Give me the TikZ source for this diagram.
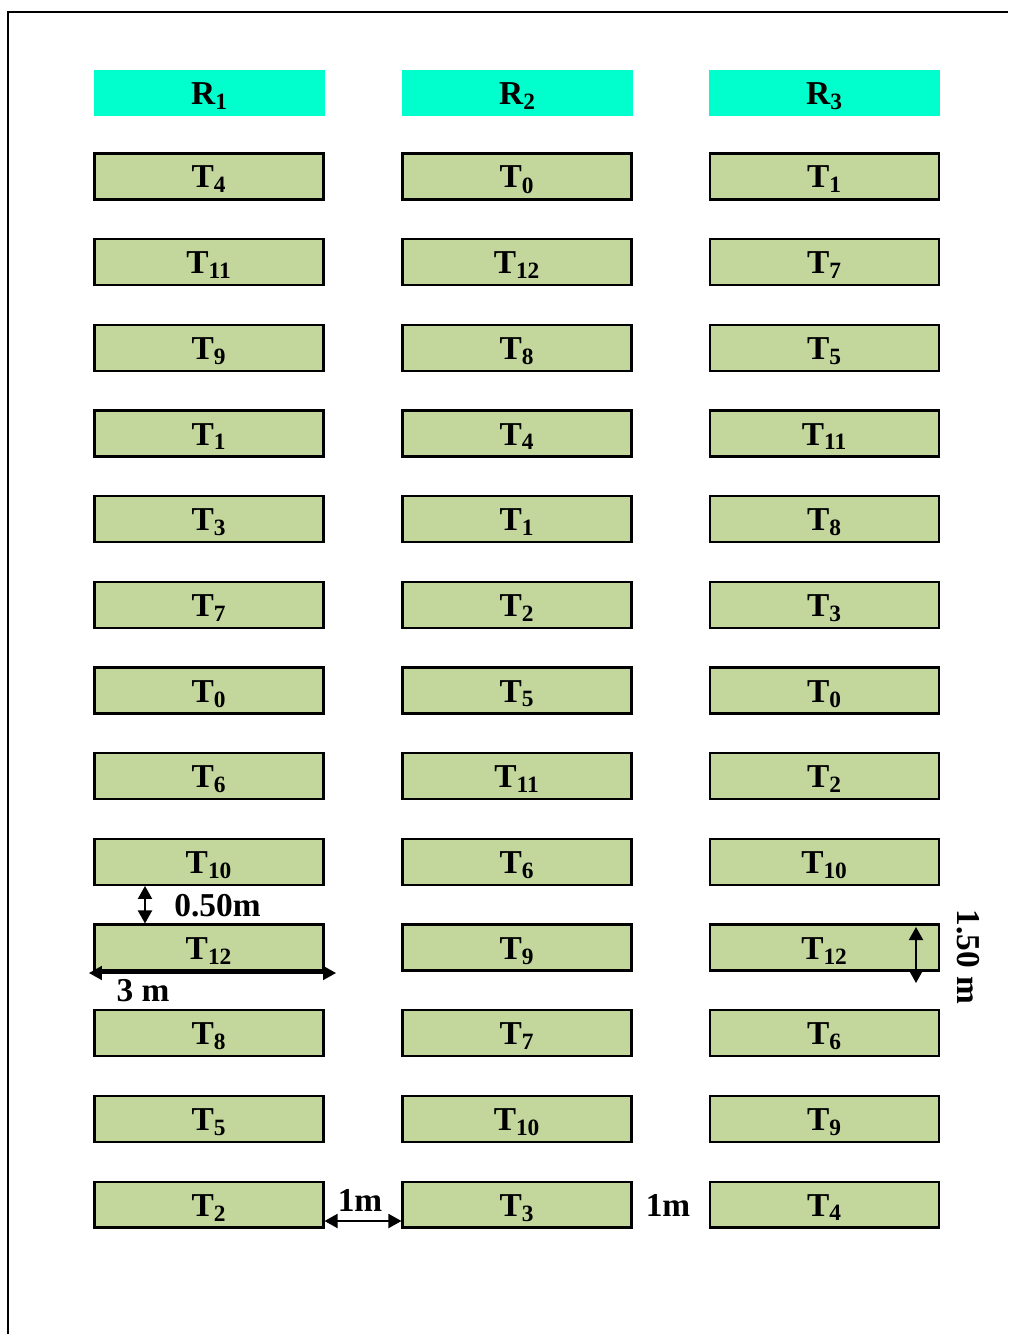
\documentclass[tikz,border=0pt]{standalone}
\usepackage{fontspec}
\setmainfont{Liberation Serif}
\usepackage{xcolor}
\usetikzlibrary{arrows.meta, positioning}

\definecolor{headcyan}{RGB}{0,255,204}
\definecolor{plotgreen}{RGB}{195,214,155}

\begin{document}
\begin{tikzpicture}[
  x=0.02cm, y=-0.02cm,
  font=\fontsize{19}{22}\selectfont\bfseries,
  frameline/.style={draw=black, line width=1.2pt},
  rowhead/.style={fill=headcyan, minimum width=4.62cm, minimum height=0.92cm, inner sep=0pt,
    text height=0.5cm, text depth=0.04cm},
  plot/.style={draw=black, line width=1.2pt, fill=plotgreen, minimum width=4.58cm, minimum height=0.92cm, inner sep=0pt,
    text height=0.5cm, text depth=0.04cm},
  dimarrow/.style={{Triangle[width=0.28cm, length=0.26cm]}-{Triangle[width=0.28cm, length=0.26cm]}, line width=1.1pt},
  dimlabel/.style={inner sep=0pt}
]
\useasboundingbox (0,0) rectangle (1008,1334);

% ============ FRAME ============
\draw[frameline] (8,1334) -- (8,12) -- (1008,12);

% ============ REPLICATES ============
\node[rowhead] (ra) at (209.5,93) {R\textsubscript{1}};
\node[rowhead] (rb) at (517.5,93) {R\textsubscript{2}};
\node[rowhead] (rc) at (824.5,93) {R\textsubscript{3}};

% ============ PLOTS ============
\foreach \lab [count=\k] in {4,11,9,1,3,7,0,6,10,12,8,5,2}
  \node[plot] (a\k) at (209,{176.5+85.67*(\k-1)}) {T\textsubscript{\lab}};
\foreach \lab [count=\k] in {0,12,8,4,1,2,5,11,6,9,7,10,3}
  \node[plot] (b\k) at (517,{176.5+85.67*(\k-1)}) {T\textsubscript{\lab}};
\foreach \lab [count=\k] in {1,7,5,11,8,3,0,2,10,12,6,9,4}
  \node[plot] (c\k) at (824.5,{176.5+85.67*(\k-1)}) {T\textsubscript{\lab}};

% ============ DIMENSIONS ============
\coordinate (gapx) at (145,0);
\draw[dimarrow] (a9.south -| gapx) -- (a10.north -| gapx);
\node[dimlabel, anchor=west] (gaplab) at (174,906) {0.50m};

\coordinate (wl) at (89,973);
\coordinate (wr) at (336,973);
\draw[dimarrow] (wl) -- (wr);
\node[dimlabel] (widthlab) at (143,991) {3 m};

\coordinate (ht) at (916,927);
\coordinate (hb) at (916,983);
\draw[dimarrow] (ht) -- (hb);
\node[dimlabel, rotate=-90] (heightlab) at (968,957) {1.50 m};

\coordinate (pathy) at (0,1221);
\draw[dimarrow] (a13.east |- pathy) -- (b13.west |- pathy);
\node[dimlabel] (pathlab) at (360,1200) {1m};
\node[dimlabel] (pathlabb) at (668,1205) {1m};

\end{tikzpicture}
\end{document}
